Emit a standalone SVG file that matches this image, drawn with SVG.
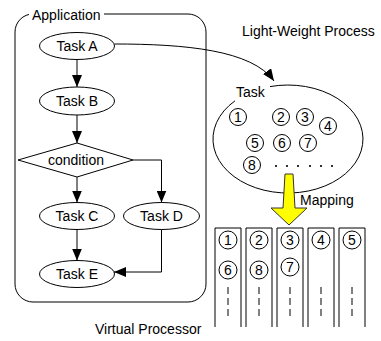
<svg xmlns="http://www.w3.org/2000/svg" width="381" height="341" viewBox="0 0 381 341">
<style>
text{font-family:"Liberation Sans",Arial,sans-serif;font-size:14px;fill:#000}
.c{text-anchor:middle}
.s{fill:none;stroke:#000;stroke-width:1}
.n{fill:#fff;stroke:#000;stroke-width:1}
.d{stroke:#000;stroke-width:1;stroke-dasharray:7 4}
</style>
<defs>
<marker id="ah" markerUnits="userSpaceOnUse" markerWidth="12" markerHeight="10" refX="12" refY="5" orient="auto"><path d="M0 0 L12 5 L0 10 Z" fill="#000"/></marker>
</defs>
<rect width="381" height="341" fill="#fff"/>
<g id="application">
<rect class="s" x="15" y="14" width="191" height="288" rx="18" ry="18"/>
<rect x="29" y="6" width="75" height="16" fill="#fff"/>
<text x="32" y="20">Application</text>
</g>
<g id="taskA"><ellipse class="n" cx="77" cy="46" rx="37.5" ry="13.5"/><text class="c" x="77" y="51">Task A</text></g>
<g id="taskB"><ellipse class="n" cx="77" cy="101" rx="37.5" ry="14"/><text class="c" x="77" y="106">Task B</text></g>
<g id="condition"><polygon class="n" points="77,143 133,160 77,177 18,160"/><text class="c" x="76" y="165">condition</text></g>
<g id="taskC"><ellipse class="n" cx="77" cy="216" rx="37.5" ry="13.5"/><text class="c" x="77" y="221">Task C</text></g>
<g id="taskD"><ellipse class="n" cx="161.5" cy="216" rx="38" ry="13.5"/><text class="c" x="161.5" y="221">Task D</text></g>
<g id="taskE"><ellipse class="n" cx="77" cy="274" rx="37.5" ry="13.5"/><text class="c" x="77" y="279">Task E</text></g>
<g id="lwp">
<text x="242" y="36">Light-Weight Process</text>
<path class="s" d="M270 86.6 A75 54 0 1 1 235 100.8"/>
<text x="236" y="97">Task</text>
<g id="t1"><circle class="n" cx="238" cy="117" r="8.5"/><text class="c" x="238" y="122">1</text></g>
<g id="t2"><circle class="n" cx="281" cy="117" r="8.5"/><text class="c" x="281" y="122">2</text></g>
<g id="t3"><circle class="n" cx="305" cy="117" r="8.5"/><text class="c" x="305" y="122">3</text></g>
<g id="t4"><circle class="n" cx="328" cy="126" r="8.5"/><text class="c" x="328" y="131">4</text></g>
<g id="t5"><circle class="n" cx="255" cy="143" r="8.5"/><text class="c" x="255" y="148">5</text></g>
<g id="t6"><circle class="n" cx="282" cy="143" r="8.5"/><text class="c" x="282" y="148">6</text></g>
<g id="t7"><circle class="n" cx="308" cy="143" r="8.5"/><text class="c" x="308" y="148">7</text></g>
<g id="t8"><circle class="n" cx="252" cy="165" r="8.5"/><text class="c" x="252" y="170">8</text></g>
<g fill="#000"><circle cx="276" cy="166" r="1.1"/><circle cx="287" cy="166" r="1.1"/><circle cx="298" cy="166" r="1.1"/><circle cx="310" cy="166" r="1.1"/><circle cx="321" cy="166" r="1.1"/><circle cx="332" cy="166" r="1.1"/></g>
</g>
<g id="mapping">
<polygon points="285,174 293,174 295,208 307,208 289,225 271,208 283,208" fill="#ffff00" stroke="#333" stroke-width="1"/>
<text x="300" y="205">Mapping</text>
</g>
<g id="processors">
<path class="s" d="M215 327 V228 H241 V327"/>
<path class="s" d="M246 327 V228 H272 V327"/>
<path class="s" d="M277 327 V228 H303 V327"/>
<path class="s" d="M308 327 V228 H334 V327"/>
<path class="s" d="M339 327 V228 H365 V327"/>
<g><circle class="n" cx="228" cy="240" r="9"/><text class="c" x="228" y="245">1</text></g>
<g><circle class="n" cx="259" cy="240" r="9"/><text class="c" x="259" y="245">2</text></g>
<g><circle class="n" cx="290" cy="240" r="9"/><text class="c" x="290" y="245">3</text></g>
<g><circle class="n" cx="321" cy="240" r="9"/><text class="c" x="321" y="245">4</text></g>
<g><circle class="n" cx="352" cy="240" r="9"/><text class="c" x="352" y="245">5</text></g>
<g><circle class="n" cx="228" cy="270" r="9"/><text class="c" x="228" y="275">6</text></g>
<g><circle class="n" cx="259" cy="270" r="9"/><text class="c" x="259" y="275">8</text></g>
<g><circle class="n" cx="290" cy="267" r="9"/><text class="c" x="290" y="272">7</text></g>
<line class="d" x1="228" y1="287" x2="228" y2="318"/>
<line class="d" x1="259" y1="287" x2="259" y2="318"/>
<line class="d" x1="290" y1="287" x2="290" y2="318"/>
<line class="d" x1="321" y1="287" x2="321" y2="318"/>
<line class="d" x1="352" y1="287" x2="352" y2="318"/>
<text x="95" y="334">Virtual Processor</text>
</g>
<g id="connectors">
<path class="s" d="M77 59.5 V87" marker-end="url(#ah)"/>
<path class="s" d="M77 115 V143" marker-end="url(#ah)"/>
<path class="s" d="M77 177 V202.5" marker-end="url(#ah)"/>
<path class="s" d="M133 160 H161.5 V202.5" marker-end="url(#ah)"/>
<path class="s" d="M77 229.5 V260.5" marker-end="url(#ah)"/>
<path class="s" d="M161.5 229.5 V272 H114" marker-end="url(#ah)"/>
<path class="s" d="M114.5 44 C185 44 252 50 274 81" marker-end="url(#ah)"/>
</g>
</svg>
